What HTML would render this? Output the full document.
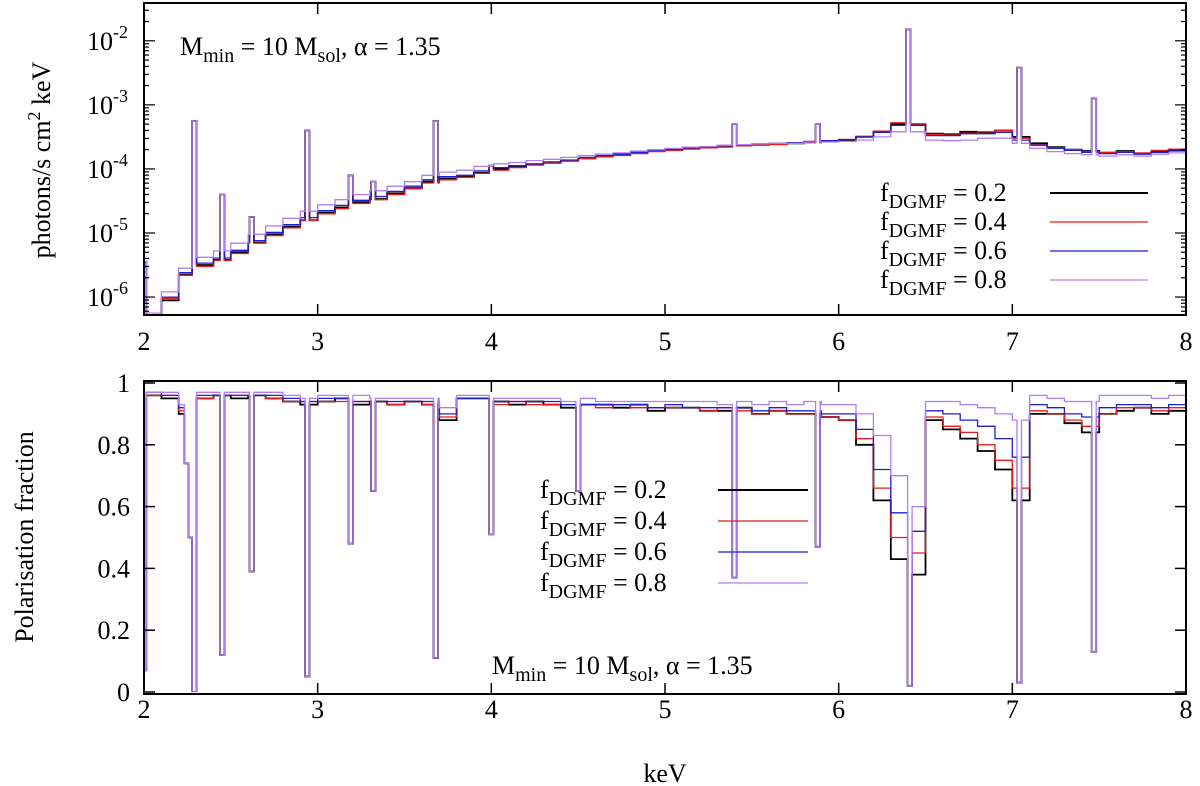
<!DOCTYPE html>
<html><head><meta charset="utf-8"><style>
body{margin:0;background:#fff;}
svg{display:block;font-family:"Liberation Serif",serif;}
</style></head><body>
<svg id="c" width="1200" height="786" viewBox="0 0 1200 786"></svg>
<script>
// ---------- data ----------
const binStarts = [2.0,2.1,2.2,2.3,2.4,2.5,2.6,2.7,2.8,2.9,3.0,3.1,3.2,3.3,3.4,3.5,3.6,3.7,3.8,3.9,4.0,4.1,4.2,4.3,4.4,4.5,4.6,4.7,4.8,4.9,5.0,5.1,5.2,5.3,5.4,5.5,5.6,5.7,5.8,5.9,6.0,6.1,6.2,6.3,6.4,6.5,6.6,6.7,6.8,6.9,7.0,7.1,7.2,7.3,7.4,7.5,7.6,7.7,7.8,7.9];
const seriesNames = ["fDGMF = 0.2","fDGMF = 0.4","fDGMF = 0.6","fDGMF = 0.8"];
const seriesColors = ["#000000","#e41a1c","#1f1fd0","#b07fef"];
// top panel: log10(photons/s cm2 keV)
const fluxBlack = [-6.3,-6.05,-5.65,-5.5,-5.42,-5.3,-5.15,-5.02,-4.9,-4.8,-4.68,-4.6,-4.52,-4.47,-4.38,-4.3,-4.2,-4.15,-4.12,-4.06,-4.0,-3.97,-3.93,-3.9,-3.87,-3.83,-3.8,-3.78,-3.75,-3.72,-3.7,-3.68,-3.66,-3.65,-3.63,-3.62,-3.61,-3.6,-3.58,-3.57,-3.55,-3.5,-3.42,-3.3,-3.3,-3.45,-3.46,-3.42,-3.43,-3.4,-3.5,-3.6,-3.66,-3.7,-3.72,-3.75,-3.72,-3.76,-3.72,-3.7];
const fluxRed   = [-6.3,-6.02,-5.66,-5.52,-5.43,-5.32,-5.16,-5.04,-4.92,-4.8,-4.7,-4.62,-4.54,-4.48,-4.4,-4.31,-4.22,-4.17,-4.13,-4.07,-4.02,-3.98,-3.94,-3.91,-3.88,-3.84,-3.81,-3.79,-3.76,-3.73,-3.71,-3.69,-3.67,-3.66,-3.64,-3.63,-3.62,-3.6,-3.59,-3.57,-3.54,-3.49,-3.41,-3.28,-3.3,-3.46,-3.47,-3.44,-3.42,-3.4,-3.52,-3.62,-3.67,-3.7,-3.73,-3.74,-3.73,-3.75,-3.71,-3.69];
const fluxBlue  = [-6.28,-6.0,-5.62,-5.47,-5.39,-5.27,-5.12,-4.99,-4.87,-4.76,-4.65,-4.57,-4.49,-4.43,-4.35,-4.27,-4.17,-4.12,-4.1,-4.03,-3.98,-3.95,-3.92,-3.89,-3.86,-3.82,-3.79,-3.77,-3.74,-3.71,-3.69,-3.67,-3.66,-3.64,-3.62,-3.61,-3.6,-3.59,-3.57,-3.56,-3.54,-3.5,-3.43,-3.32,-3.32,-3.48,-3.48,-3.45,-3.45,-3.43,-3.55,-3.63,-3.68,-3.71,-3.74,-3.76,-3.74,-3.77,-3.74,-3.72];
const fluxPurple= [-6.25,-5.92,-5.55,-5.38,-5.28,-5.16,-5.02,-4.89,-4.77,-4.66,-4.56,-4.48,-4.4,-4.34,-4.27,-4.2,-4.1,-4.05,-4.02,-3.96,-3.92,-3.9,-3.87,-3.85,-3.82,-3.79,-3.77,-3.75,-3.72,-3.7,-3.68,-3.66,-3.65,-3.63,-3.62,-3.61,-3.6,-3.6,-3.58,-3.58,-3.57,-3.55,-3.5,-3.42,-3.42,-3.55,-3.56,-3.55,-3.52,-3.52,-3.6,-3.68,-3.73,-3.76,-3.78,-3.8,-3.78,-3.8,-3.77,-3.75];
const lineEnergies = [2.0,2.29,2.45,2.62,2.94,3.19,3.32,3.68,4.0,5.4,5.88,6.4,7.04,7.47];
const linePeaks    = [-5.45,-3.25,-4.4,-4.75,-3.4,-4.1,-4.2,-3.25,-3.95,-3.3,-3.3,-1.82,-2.42,-2.9];
// bottom panel: polarisation fraction
const polBlack = [0.96,0.95,0.9,0.95,0.96,0.95,0.96,0.95,0.94,0.93,0.94,0.95,0.93,0.94,0.93,0.94,0.93,0.88,0.95,0.95,0.94,0.93,0.94,0.93,0.92,0.93,0.93,0.92,0.93,0.91,0.92,0.92,0.91,0.91,0.92,0.9,0.91,0.9,0.9,0.89,0.88,0.8,0.62,0.43,0.38,0.88,0.85,0.82,0.78,0.72,0.62,0.9,0.9,0.87,0.84,0.9,0.91,0.92,0.9,0.91];
const polRed    = [0.96,0.96,0.91,0.95,0.96,0.96,0.96,0.95,0.94,0.94,0.94,0.94,0.94,0.94,0.93,0.94,0.93,0.89,0.95,0.95,0.93,0.94,0.93,0.93,0.93,0.93,0.92,0.93,0.92,0.92,0.92,0.92,0.91,0.92,0.91,0.9,0.91,0.9,0.9,0.89,0.88,0.82,0.66,0.5,0.45,0.89,0.86,0.84,0.8,0.75,0.66,0.91,0.9,0.88,0.86,0.9,0.92,0.92,0.91,0.92];
const polBlue   = [0.97,0.96,0.92,0.96,0.96,0.96,0.96,0.96,0.95,0.94,0.95,0.95,0.94,0.94,0.94,0.94,0.94,0.9,0.95,0.95,0.94,0.94,0.94,0.94,0.93,0.93,0.93,0.93,0.93,0.92,0.93,0.92,0.92,0.92,0.92,0.91,0.92,0.91,0.91,0.9,0.9,0.85,0.72,0.58,0.52,0.91,0.9,0.88,0.86,0.82,0.76,0.93,0.92,0.9,0.89,0.92,0.93,0.93,0.92,0.93];
const polPurple = [0.97,0.97,0.93,0.97,0.97,0.97,0.97,0.97,0.96,0.95,0.96,0.96,0.96,0.95,0.95,0.95,0.95,0.92,0.96,0.96,0.95,0.95,0.95,0.95,0.94,0.95,0.94,0.94,0.94,0.94,0.94,0.94,0.94,0.93,0.94,0.93,0.94,0.93,0.94,0.93,0.93,0.9,0.83,0.7,0.6,0.94,0.94,0.93,0.92,0.9,0.88,0.96,0.95,0.94,0.94,0.96,0.96,0.96,0.95,0.96];
const dipEnergies = [2.0,2.245,2.27,2.29,2.45,2.62,2.94,3.19,3.32,3.68,4.0,4.5,5.4,5.88,6.41,7.04,7.47];
const dipMins     = [0.07,0.74,0.5,0.0,0.12,0.39,0.05,0.48,0.65,0.11,0.51,0.65,0.37,0.47,0.02,0.03,0.13];
const xTicks = [2,3,4,5,6,7,8];
const logTicks = [-6,-5,-4,-3,-2];
const polTicks = [0,0.2,0.4,0.6,0.8,1];
const polTickLabels = ["0","0.2","0.4","0.6","0.8","1"];

// ---------- geometry ----------
const X0=144,X1=1186, T0=3,T1=315, B0=383,B1=692;
const TYmax=-1.41, TYmin=-6.28;
const sx = v => X0 + (v-2)/6*(X1-X0);
const tyS = v => T0 + (TYmax-v)/(TYmax-TYmin)*(T1-T0);
const byS = v => B1 - v*(B1-B0);
const svg=document.getElementById('c');
const NS="http://www.w3.org/2000/svg";
function mk(tag,attrs,parent){const e=document.createElementNS(NS,tag);for(const k in attrs)e.setAttribute(k,attrs[k]);(parent||svg).appendChild(e);return e;}

function stepPath(vals, ys, lines, peaks, clampTop, clampBot){
  let segs=[];
  for(let i=0;i<binStarts.length;i++) segs.push([binStarts[i],binStarts[i]+0.1,vals[i]]);
  for(let j=0;j<lines.length;j++){
    const e=lines[j], a=e-0.013, b=e+0.013, out=[];
    for(const s of segs){
      if(s[1]<=a||s[0]>=b){out.push(s);continue;}
      if(s[0]<a) out.push([s[0],a,s[2]]);
      out.push([Math.max(s[0],a),Math.min(s[1],b),peaks[j]]);
      if(s[1]>b) out.push([b,s[1],s[2]]);
    }
    segs=out;
  }
  let d="";
  segs.forEach((s,i)=>{
    let y=Math.min(Math.max(ys(s[2]),clampTop),clampBot);
    d+=(i===0?"M":"L")+sx(s[0]).toFixed(1)+","+y.toFixed(1)+"L"+sx(s[1]).toFixed(1)+","+y.toFixed(1);
  });
  return d;
}

const defs=mk('defs',{});
const c1=mk('clipPath',{id:'ct'},defs); mk('rect',{x:X0,y:T0,width:X1-X0,height:T1-T0},c1);
const c2=mk('clipPath',{id:'cb'},defs); mk('rect',{x:X0,y:B0-2,width:X1-X0,height:B1-B0+2},c2);

const topG=mk('g',{'clip-path':'url(#ct)'});


const fluxSeries=[fluxBlack,fluxRed,fluxBlue,fluxPurple];
[0,1,2,3].forEach(k=>{
  const p=mk('path',{d:stepPath(fluxSeries[k],tyS,lineEnergies,linePeaks,T0,T1+2),fill:'none',stroke:seriesColors[k],'stroke-width':k===0?1.8:1.3},topG);
  
  
});
const botG=mk('g',{'clip-path':'url(#cb)'});


const polSeries=[polBlack,polRed,polBlue,polPurple];
[0,1,2,3].forEach(k=>{
  const p=mk('path',{d:stepPath(polSeries[k],byS,dipEnergies,dipMins,B0-2,B1),fill:'none',stroke:seriesColors[k],'stroke-width':k===0?1.8:1.3},botG);
  
  
});

function frame(y0,y1,name){
  const r=mk('rect',{x:X0,y:y0,width:X1-X0,height:y1-y0,fill:'none',stroke:'#000','stroke-width':2});
  
  
  xTicks.forEach(t=>{
    mk('line',{x1:sx(t),x2:sx(t),y1:y1,y2:y1-11,stroke:'#000','stroke-width':1.5});
    mk('line',{x1:sx(t),x2:sx(t),y1:y0,y2:y0+11,stroke:'#000','stroke-width':1.5});
  });
}
frame(T0,T1,'top-frame'); frame(B0-2,B1+2,'bottom-frame');
for(let dec=-7;dec<=-2;dec++){
  for(let m=1;m<10;m++){
    const v=dec+Math.log10(m); const y=tyS(v);
    if(y<T0||y>T1) continue;
    const L=m===1?11:5;
    mk('line',{x1:X0,x2:X0+L,y1:y,y2:y,stroke:'#000','stroke-width':1.2});
    mk('line',{x1:X1,x2:X1-L,y1:y,y2:y,stroke:'#000','stroke-width':1.2});
  }
}
polTicks.forEach(t=>{
  mk('line',{x1:X0,x2:X0+11,y1:byS(t),y2:byS(t),stroke:'#000','stroke-width':1.5});
  mk('line',{x1:X1,x2:X1-11,y1:byS(t),y2:byS(t),stroke:'#000','stroke-width':1.5});
});
function txt(x,y,s,anchor,name,size){
  const t=mk('text',{x:x,y:y,'font-size':size||26,'text-anchor':anchor||'middle'});
  t.innerHTML=s;
  
  
  return t;
}
xTicks.forEach(t=>{ txt(sx(t),350,String(t),'middle','top-x-tick-label'); txt(sx(t),718,String(t),'middle','bottom-x-tick-label'); });
logTicks.forEach(t=>{ txt(128,tyS(t)+9,'10<tspan dy="-12" font-size="18">'+t+'</tspan>','end','top-y-tick-label'); });
polTicks.forEach((t,i)=>{ txt(130,byS(t)+9,polTickLabels[i],'end','bottom-y-tick-label'); });
const yl1=txt(0,0,'photons/s cm<tspan dy="-10" font-size="18">2</tspan><tspan dy="10"> keV</tspan>','middle','top-y-axis-title');
yl1.setAttribute('transform','translate(50,160) rotate(-90)');
const yl2=txt(0,0,'Polarisation fraction','middle','bottom-y-axis-title');
yl2.setAttribute('transform','translate(33,537) rotate(-90)');
txt(665,782,'keV','middle','x-axis-title');
txt(180,55,'M<tspan dy="7" font-size="20">min</tspan><tspan dy="-7"> = 10 M</tspan><tspan dy="7" font-size="20">sol</tspan><tspan dy="-7">, α = 1.35</tspan>','start','top-annotation');
txt(492,674,'M<tspan dy="7" font-size="20">min</tspan><tspan dy="-7"> = 10 M</tspan><tspan dy="7" font-size="20">sol</tspan><tspan dy="-7">, α = 1.35</tspan>','start','bottom-annotation');
function legend(xText,ys,lx0,lx1,name){
  ys.forEach((y,i)=>{
    txt(xText,y+8,'f<tspan dy="7" font-size="20">DGMF</tspan><tspan dy="-7"> = '+['0.2','0.4','0.6','0.8'][i]+'</tspan>','start',name+'-label');
    const l=mk('line',{x1:lx0,x2:lx1,y1:y,y2:y,stroke:seriesColors[i],'stroke-width':i===0?2:1.3});
    
    
  });
}
legend(880,[193,222,251,280],1050,1148,'top-legend');
legend(540,[490,521,552,583],718,808,'bottom-legend');
</script>
</body></html>
